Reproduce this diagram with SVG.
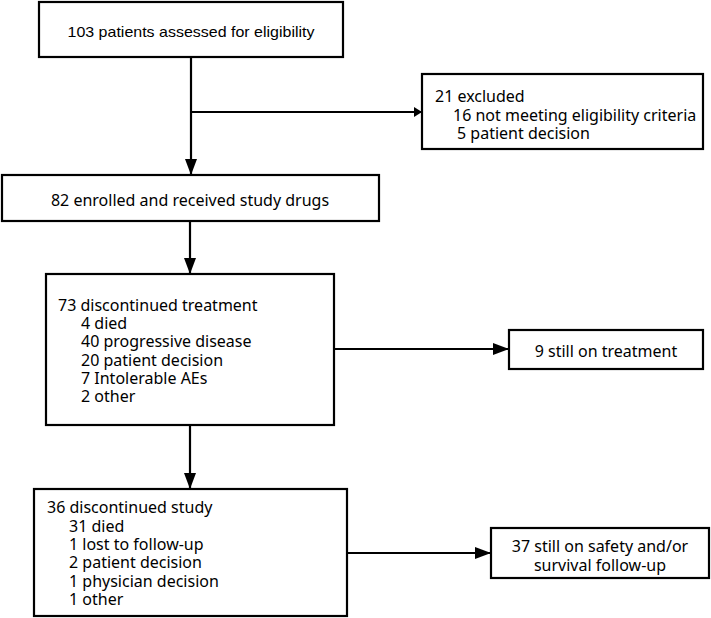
<svg xmlns="http://www.w3.org/2000/svg" width="711" height="618" viewBox="0 0 711 618">
<defs>
<style>
.box{fill:#fff;stroke:#000;stroke-width:2.2}
.ln{fill:none;stroke:#000;stroke-width:2.2}
.t{font-family:"Noto Sans","Open Sans","DejaVu Sans",sans-serif;font-size:16px;fill:#000}
.a{font-family:"Liberation Sans",Arial,sans-serif;font-size:15px;fill:#000}
.c{text-anchor:middle}
</style>
<marker id="ah" viewBox="0 0 16 12" refX="16" refY="6" markerWidth="16" markerHeight="12" markerUnits="userSpaceOnUse" orient="auto">
<path d="M0,0 L16,6 L0,12 Z" fill="#000"/>
</marker>
<marker id="ahs" viewBox="0 0 8 10" refX="8" refY="5" markerWidth="8" markerHeight="10" markerUnits="userSpaceOnUse" orient="auto">
<path d="M0,0 L8,5 L0,10 Z" fill="#000"/>
</marker>
</defs>
<rect width="711" height="618" fill="#fff"/>
<g id="connectors">
<line class="ln" x1="191" y1="57" x2="191" y2="175" marker-end="url(#ah)"/>
<line class="ln" x1="191" y1="112" x2="422" y2="112" marker-end="url(#ahs)"/>
<line class="ln" x1="190" y1="221" x2="190" y2="274" marker-end="url(#ah)"/>
<line class="ln" x1="334" y1="349" x2="509" y2="349" marker-end="url(#ah)"/>
<line class="ln" x1="190" y1="425" x2="190" y2="489" marker-end="url(#ah)"/>
<line class="ln" x1="347" y1="553" x2="491" y2="553" marker-end="url(#ah)"/>
</g>
<g id="assessed">
<rect class="box" x="39" y="2" width="304" height="55"/>
<text class="a c" x="191" y="37" textLength="247" lengthAdjust="spacingAndGlyphs">103 patients assessed for eligibility</text>
</g>
<g id="excluded">
<rect class="box" x="422" y="74" width="281" height="75"/>
<text class="t" x="435" y="102">21 excluded</text>
<text class="t" x="453" y="120.5">16 not meeting eligibility criteria</text>
<text class="t" x="457" y="139">5 patient decision</text>
</g>
<g id="enrolled">
<rect class="box" x="2" y="175" width="377" height="46"/>
<text class="t c" x="190" y="206">82 enrolled and received study drugs</text>
</g>
<g id="disc-treatment">
<rect class="box" x="46" y="274" width="288" height="151"/>
<text class="t" x="58" y="310.7">73 discontinued treatment</text>
<text class="t" x="81" y="329">4 died</text>
<text class="t" x="81" y="347.3">40 progressive disease</text>
<text class="t" x="81" y="365.6">20 patient decision</text>
<text class="t" x="81" y="384">7 Intolerable AEs</text>
<text class="t" x="81" y="402.3">2 other</text>
</g>
<g id="still-treatment">
<rect class="box" x="509" y="330" width="194" height="39"/>
<text class="t c" x="606" y="357">9 still on treatment</text>
</g>
<g id="disc-study">
<rect class="box" x="34" y="489" width="313" height="127"/>
<text class="t" x="47" y="513.3">36 discontinued study</text>
<text class="t" x="69" y="531.6">31 died</text>
<text class="t" x="69" y="550">1 lost to follow-up</text>
<text class="t" x="69" y="568.3">2 patient decision</text>
<text class="t" x="69" y="586.6">1 physician decision</text>
<text class="t" x="69" y="605">1 other</text>
</g>
<g id="follow-up">
<rect class="box" x="491" y="528" width="218" height="50"/>
<text class="t c" x="600" y="551.7">37 still on safety and/or</text>
<text class="t c" x="600" y="571">survival follow-up</text>
</g>
</svg>
